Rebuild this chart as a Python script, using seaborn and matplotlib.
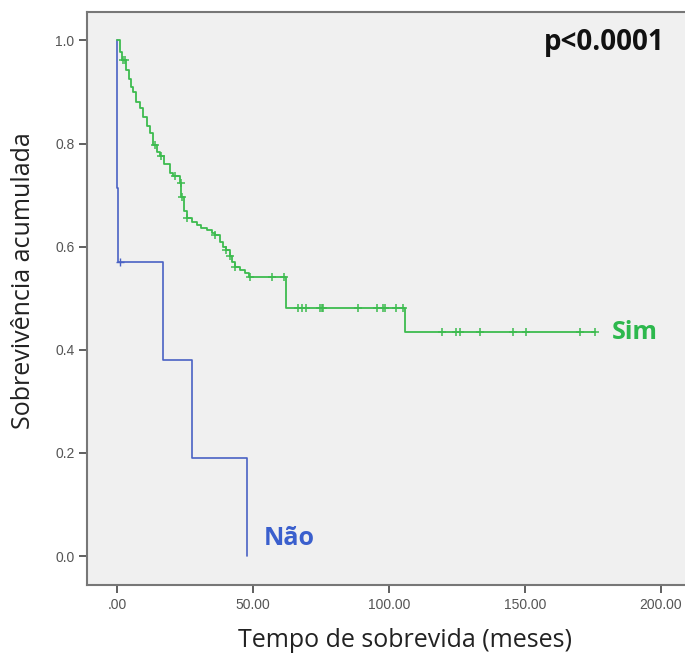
import numpy as np
import pandas as pd
import matplotlib
matplotlib.use("Agg")
import matplotlib.pyplot as plt
import seaborn as sns

# ---- data ----
sim_times = [0.0, 1.0, 2.0, 3.5, 4.5, 5.2, 6.0, 7.2, 8.5, 9.7, 10.9, 12.1, 13.3, 14.6,
             15.8, 17.5, 19.5, 20.5, 23.2, 23.6, 24.5, 25.6, 27.5, 29.3, 31.0, 33.0,
             35.0, 36.0, 37.9, 39.0, 40.3, 41.5, 42.5, 43.4, 45.2, 47.0, 48.5, 62.1,
             106.0, 176.0]
sim_surv = [1.0, 0.978, 0.962, 0.943, 0.925, 0.91, 0.90, 0.88, 0.868, 0.852, 0.833, 0.82,
            0.797, 0.784, 0.775, 0.76, 0.742, 0.737, 0.723, 0.697, 0.67, 0.655, 0.648,
            0.642, 0.636, 0.632, 0.627, 0.623, 0.61, 0.60, 0.594, 0.581, 0.57, 0.561,
            0.555, 0.548, 0.542, 0.482, 0.434, 0.434]
sim_censor = [2.3, 3.0, 14.0, 16.4, 21.5, 23.4, 24.0, 25.6, 36.0, 40.3, 41.5, 43.4, 48.9,
              56.9, 61.4, 66.6, 67.9, 69.7, 74.6, 75.3, 75.9, 88.7, 95.5, 97.9, 98.5,
              102.8, 105.3, 119.4, 124.6, 126.1, 133.5, 145.5, 150.6, 170.2, 175.7]

nao_times = [0.0, 0.1, 0.5, 17.0, 27.6, 47.8]
nao_surv = [1.0, 0.714, 0.571, 0.381, 0.190, 0.0]
nao_censor = [1.3]

x_ticks = [0, 50, 100, 150, 200]
x_tick_labels = [".00", "50.00", "100.00", "150.00", "200.00"]
y_ticks = [0.0, 0.2, 0.4, 0.6, 0.8, 1.0]
y_tick_labels = ["0.0", "0.2", "0.4", "0.6", "0.8", "1.0"]

green = "#3dbb4f"
blue = "#4a62c4"


def censor_y(times, surv, ct):
    idx = np.searchsorted(np.array(times), np.array(ct), side="right") - 1
    return np.array(surv)[idx]


sns.set_style("white")
plt.rcParams["font.family"] = ["DejaVu Sans"]

fig = plt.figure(figsize=(6.85, 6.62), dpi=100)
# axes extends a little past the right edge of the figure (cropped original)
ax = fig.add_axes([0.127, 0.1163, 0.928, 0.8656])
ax.set_facecolor("#f0f0f0")

df_sim = pd.DataFrame({"t": sim_times, "s": sim_surv})
df_nao = pd.DataFrame({"t": nao_times, "s": nao_surv})

sns.lineplot(data=df_nao, x="t", y="s", ax=ax, color=blue, lw=1.2,
             drawstyle="steps-post", estimator=None, sort=False)
sns.lineplot(data=df_sim, x="t", y="s", ax=ax, color=green, lw=1.3,
             drawstyle="steps-post", estimator=None, sort=False)

df_sc = pd.DataFrame({"t": sim_censor, "s": censor_y(sim_times, sim_surv, sim_censor)})
df_nc = pd.DataFrame({"t": nao_censor, "s": censor_y(nao_times, nao_surv, nao_censor)})
sns.scatterplot(data=df_sc, x="t", y="s", ax=ax, marker="+", s=35, color=green,
                linewidth=1.1, zorder=3)
sns.scatterplot(data=df_nc, x="t", y="s", ax=ax, marker="+", s=30, color=blue,
                linewidth=1.0, zorder=3)

ax.set_xlim(-11, 222.8)
ax.set_ylim(-0.056, 1.055)
ax.set_xticks(x_ticks)
ax.set_xticklabels(x_tick_labels)
ax.set_yticks(y_ticks)
ax.set_yticklabels(y_tick_labels)
ax.tick_params(axis="both", direction="out", length=6, width=1.2, color="#444444",
               labelsize=10, labelcolor="#555555", pad=3, bottom=True, left=True)
for lab in ax.get_xticklabels() + ax.get_yticklabels():
    lab.set_family("Liberation Sans")

for side in ["left", "bottom", "top", "right"]:
    ax.spines[side].set_color("#777777")
    ax.spines[side].set_linewidth(1.5)

ax.set_xlabel("Tempo de sobrevida (meses)", fontsize=18, family="Open Sans",
              color="#222222", labelpad=12)
ax.set_ylabel("Sobrevivência acumulada", fontsize=18, family="Open Sans",
              color="#222222")
ax.yaxis.set_label_coords(-0.080, 0.532)

ax.text(201.5, 0.995, "p<0.0001", ha="right", va="center",
        fontsize=20, fontweight="bold", family="Open Sans", color="#111111")
ax.text(182, 0.434, "Sim", ha="left", va="center", fontsize=18, fontweight="bold",
        family="Open Sans", color="#2db84d")
ax.text(54, 0.035, "Não", ha="left", va="center", fontsize=18, fontweight="bold",
        family="Open Sans", color="#3a5fcd")

fig.savefig("out.png", dpi=100)
